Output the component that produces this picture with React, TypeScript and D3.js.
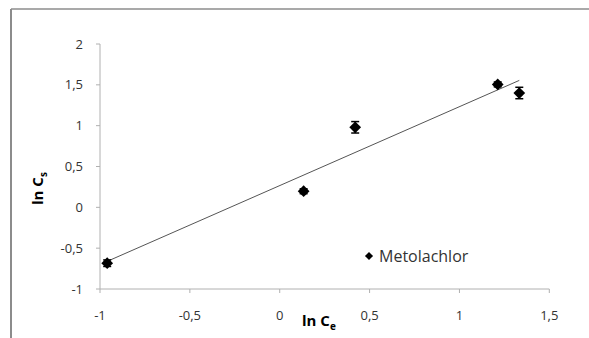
import React from "react";
import * as d3 from "d3";

const W = 589;
const H = 338;

// Metolachlor measurements (ln Ce, ln Cs, error)
const lnCe = [-0.96, 0.133, 0.42, 1.213, 1.333];
const lnCs = [-0.684, 0.197, 0.98, 1.505, 1.4];
const errs = [0.04, 0.03, 0.07, 0.03, 0.07];

const xTicks = [-1, -0.5, 0, 0.5, 1, 1.5];
const yTicks = [-1, -0.5, 0, 0.5, 1, 1.5, 2];

const FONT = "'Open Sans', Lato, sans-serif";
const fmt = (v: number) => String(v).replace(".", ",");

// least squares trendline, like Excel's linear trend
function fitLine(xs: number[], ys: number[]) {
  const mx = d3.mean(xs)!;
  const my = d3.mean(ys)!;
  const sxy = d3.sum(xs, (x, i) => (x - mx) * (ys[i] - my));
  const sxx = d3.sum(xs, (x) => (x - mx) * (x - mx));
  const slope = sxy / sxx;
  return { slope, intercept: my - slope * mx };
}

export default function App() {
  const x = d3.scaleLinear().domain([-1, 1.5]).range([100, 549.3]);
  const y = d3.scaleLinear().domain([-1, 2]).range([289, 44]);

  const fit = fitLine(lnCe, lnCs);
  const [x0, x1] = d3.extent(lnCe) as [number, number];
  const trend = d3.line<number>()
    .x((d) => x(d))
    .y((d) => y(fit.intercept + fit.slope * d));

  const diamond = d3.symbol().type(d3.symbolDiamond2).size(88)();
  const smallDiamond = d3.symbol().type(d3.symbolDiamond2).size(42)();

  return (
    <div style={{ position: "fixed", left: 0, top: 0 }}>
      <svg width={W} height={H} style={{ display: "block", background: "#fff" }}>
        {/* outer frame */}
        <line x1={11} x2={W} y1={9} y2={9} stroke="#8c8c8c" strokeWidth={1.5} />
        <line x1={11} x2={11} y1={9} y2={H} stroke="#8c8c8c" strokeWidth={2} />

        {/* y axis */}
        <line x1={x(-1)} x2={x(-1)} y1={y(2)} y2={y(-1)} stroke="#b0b0b0" />
        {yTicks.map((t) => (
          <g key={"y" + t}>
            <line x1={x(-1) - 4} x2={x(-1)} y1={y(t)} y2={y(t)} stroke="#b0b0b0" />
            <text x={83} y={y(t)} dy="0.35em" textAnchor="end" fontFamily={FONT} fontSize={13} fill="#333">
              {fmt(t)}
            </text>
          </g>
        ))}

        {/* x axis */}
        <line x1={x(-1)} x2={x(1.5)} y1={y(-1)} y2={y(-1)} stroke="#b0b0b0" />
        {xTicks.map((t) => (
          <g key={"x" + t}>
            <line x1={x(t)} x2={x(t)} y1={y(-1)} y2={y(-1) + 4} stroke="#b0b0b0" />
            <text x={x(t)} y={320} textAnchor="middle" fontFamily={FONT} fontSize={13} fill="#333">
              {fmt(t)}
            </text>
          </g>
        ))}

        {/* axis titles */}
        <text x={302} y={326} fontFamily={FONT} fontSize={15} fontWeight="bold" fill="#000">
          ln C<tspan fontSize={10} dy={4}>e</tspan>
        </text>
        <text transform="translate(43,205) rotate(-90)" fontFamily={FONT} fontSize={15} fontWeight="bold" fill="#000">
          ln C<tspan fontSize={10} dy={4}>s</tspan>
        </text>

        {/* trendline */}
        <path d={trend([x0, x1]) || ""} fill="none" stroke="#555" strokeWidth={1} />

        {/* error bars + points */}
        {lnCe.map((cx, i) => {
          const px = x(cx);
          const top = y(lnCs[i] + errs[i]);
          const bot = y(lnCs[i] - errs[i]);
          return (
            <g key={"p" + i}>
              <line x1={px} x2={px} y1={top} y2={bot} stroke="#000" strokeWidth={1.5} />
              <line x1={px - 4} x2={px + 4} y1={top} y2={top} stroke="#000" strokeWidth={1.5} />
              <line x1={px - 4} x2={px + 4} y1={bot} y2={bot} stroke="#000" strokeWidth={1.5} />
              <path d={diamond || ""} transform={`translate(${px},${y(lnCs[i])})`} fill="#000" />
            </g>
          );
        })}

        {/* legend */}
        <path d={smallDiamond || ""} transform="translate(369,256)" fill="#000" />
        <text x={379} y={256} dy="0.35em" fontFamily={FONT} fontSize={16} fill="#333">
          Metolachlor
        </text>
      </svg>
    </div>
  );
}
